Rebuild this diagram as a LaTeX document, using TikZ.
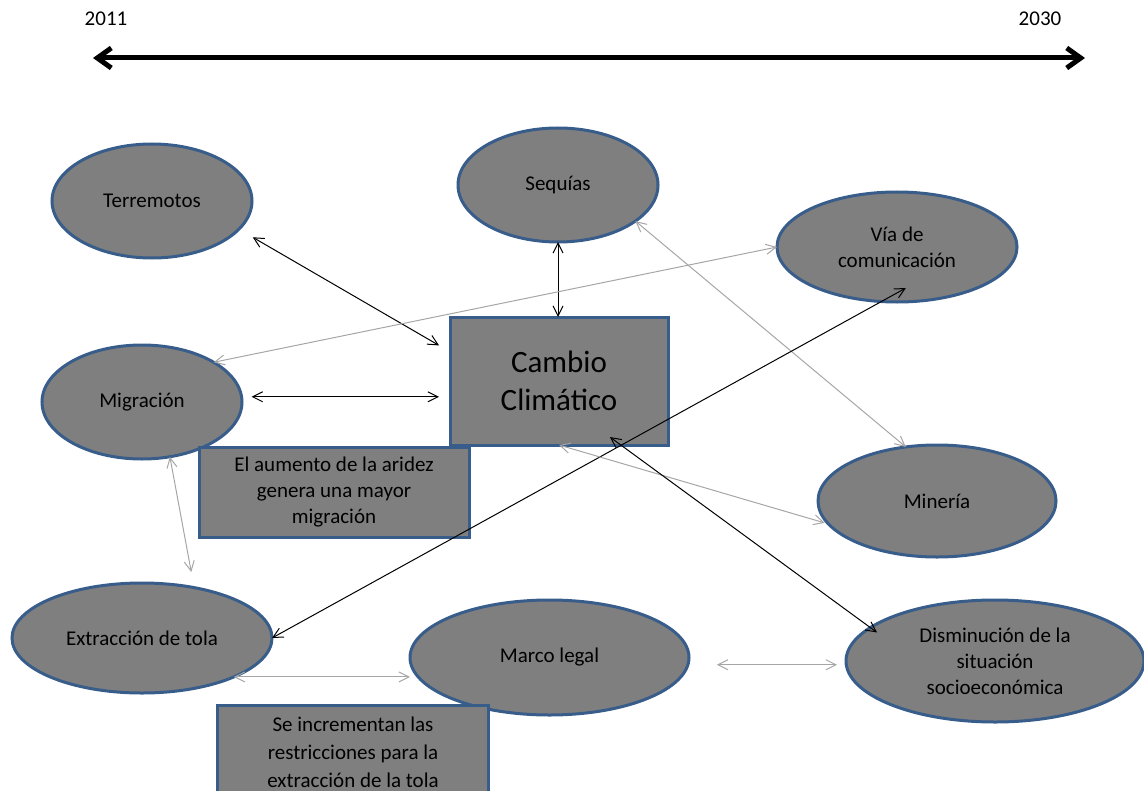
\documentclass[tikz,border=0pt]{standalone}
\usepackage{fontspec}
\setmainfont{Carlito}
\usetikzlibrary{shapes.geometric,arrows.meta}
\definecolor{nodefill}{RGB}{127,127,127}
\definecolor{nodeline}{RGB}{56,93,138}
\definecolor{linkgray}{RGB}{166,166,166}
\begin{document}
\begin{tikzpicture}[x=0.5pt,y=-0.5pt,
  txt/.style={font=\fontsize{10.5}{13}\selectfont},
  bubble/.style={ellipse, draw=nodeline, line width=1.5pt, fill=nodefill,
    inner sep=0pt, outer sep=0pt, align=center, txt},
  panel/.style={rectangle, draw=nodeline, line width=1.5pt, fill=nodefill,
    inner sep=0pt, outer sep=0pt, align=center, txt},
  barb/.tip={Straight Barb[length=5pt,width=5pt]},
  link/.style={line width=0.5pt, barb-barb},
  blacklink/.style={link, black},
  graylink/.style={link, linkgray},
  bigbarb/.tip={Straight Barb[length=7pt,width=10pt]},
]
\useasboundingbox (0,0) rectangle (1144,791);

% time axis
\node[txt] (y0) at (106,19) {2011};
\node[txt] (y1) at (1040,19) {2030};
\coordinate (tl0) at (93,58);
\coordinate (tl1) at (1085,58);
\draw[line width=2.5pt, bigbarb-bigbarb] (tl0) -- (tl1);

% factors
\node[bubble, minimum width=100pt, minimum height=57pt] (terr) at (152,201) {Terremotos};
\node[bubble, minimum width=100pt, minimum height=57pt] (seq) at (558,185) {Sequías};
\node[bubble, minimum width=120pt, minimum height=55pt] (via) at (897,247) {Vía de\\comunicación};
\node[bubble, minimum width=100pt, minimum height=57pt] (mig) at (142,402) {Migración};
\node[panel, minimum width=109pt, minimum height=64pt,
      font=\fontsize{15.5}{19}\selectfont] (cc) at (559,381) {Cambio\\Climático};
\node[panel, minimum width=135pt, minimum height=45pt] (aum) at (334,492)
  {El aumento de la aridez\\genera una mayor\\migración};
\node[bubble, minimum width=119pt, minimum height=56pt] (min) at (937,501) {Minería};
\node[bubble, minimum width=130pt, minimum height=55pt] (ext) at (142,638) {Extracción de tola};
\node[bubble, minimum width=139.5pt, minimum height=57.5pt] (marco) at (549.5,657.5) {Marco legal};
\node[bubble, minimum width=149pt, minimum height=61pt] (dism) at (995,661)
  {Disminución de la\\situación\\socioeconómica};
\node[panel, minimum width=135.5pt, minimum height=47pt,
      font=\fontsize{10.5}{14}\selectfont] (inc) at (353,752)
  {Se incrementan las\\restricciones para la\\extracción de la tola};

% relations
\draw[blacklink, shorten <=8pt, shorten >=6.35pt] (terr.-18.6) -- (cc.165.3);
\draw[blacklink] (seq.south) -- (seq.south |- cc.north);
\draw[graylink] (via.west) -- (mig.29);
\draw[blacklink, shorten <=5pt, shorten >=5.5pt] (mig.3) -- (mig.3 -| cc.west);
\draw[graylink] (seq.-25) -- (min.120);
\draw[blacklink, shorten >=-14pt] (ext.east) -- (via.-106);
\draw[graylink, shorten >=2pt] (cc.south) -- (min.-168);
\draw[blacklink, shorten <=-6.75pt, shorten >=-4.15pt] (cc.-46) -- (dism.165.3);
\draw[graylink, shorten >=7.9pt] (mig.-63) -- (ext.44.2);
\draw[graylink] (ext.-23) -- (ext.-23 -| marco.west);
\draw[graylink, shorten <=14.5pt, shorten >=4.5pt] (marco.-3) -- (marco.-3 -| dism.west);
\end{tikzpicture}
\end{document}
